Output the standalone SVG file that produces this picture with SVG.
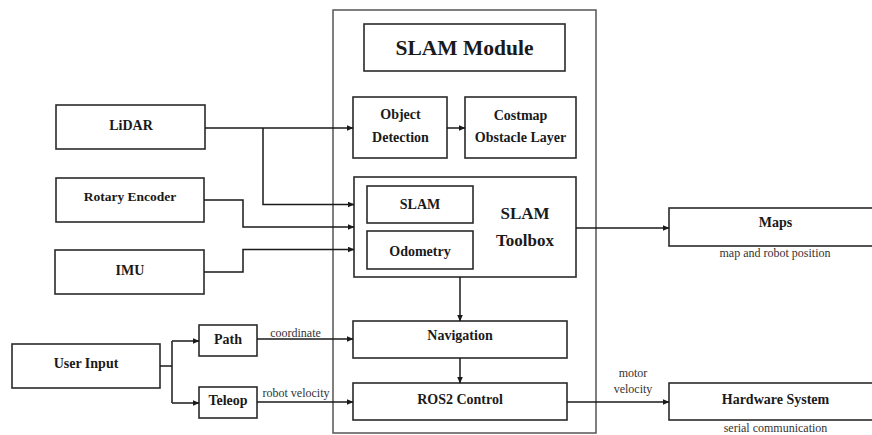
<svg xmlns="http://www.w3.org/2000/svg" width="872" height="435" viewBox="0 0 872 435">
<defs>
<style>
.box{fill:#fff;stroke:#2a2a2a;stroke-width:1.6}
.cont{fill:none;stroke:#555;stroke-width:1.5}
.t{font-family:"Liberation Serif","Times New Roman",serif;font-weight:bold;font-size:14px;fill:#1a1a1a;text-anchor:middle}
.s{font-family:"Liberation Serif","Times New Roman",serif;font-size:12px;fill:#333;text-anchor:middle}
.c{fill:none;stroke:#1a1a1a;stroke-width:1.5}
</style>
<marker id="ah" markerWidth="7" markerHeight="6" refX="6.5" refY="3" orient="auto" markerUnits="userSpaceOnUse">
<path d="M0,0 L7,3 L0,6 z" fill="#1a1a1a"/>
</marker>
</defs>
<rect width="872" height="435" fill="#fff"/>
<g id="slam-module-container">
<rect class="cont" x="333" y="10" width="263" height="423"/>
</g>
<g id="slam-module-title">
<rect class="box" x="364" y="24" width="201" height="47"/>
<text class="t" x="464.5" y="55" style="font-size:21.5px">SLAM Module</text>
</g>
<g id="lidar">
<rect class="box" x="56" y="105" width="149" height="44"/>
<text class="t" x="131" y="130">LiDAR</text>
</g>
<g id="rotary-encoder">
<rect class="box" x="56" y="178" width="148" height="44"/>
<text class="t" x="130" y="201" style="font-size:13.5px">Rotary Encoder</text>
</g>
<g id="imu">
<rect class="box" x="55" y="250" width="149" height="44"/>
<text class="t" x="130" y="275">IMU</text>
</g>
<g id="user-input">
<rect class="box" x="12" y="344" width="148" height="44"/>
<text class="t" x="86" y="368">User Input</text>
</g>
<g id="path">
<rect class="box" x="199" y="325" width="58" height="31"/>
<text class="t" x="228" y="344">Path</text>
</g>
<g id="teleop">
<rect class="box" x="199" y="387" width="58" height="31"/>
<text class="t" x="228" y="405">Teleop</text>
</g>
<g id="object-detection">
<rect class="box" x="353" y="97" width="94" height="61"/>
<text class="t" x="400.5" y="119">Object</text>
<text class="t" x="400.5" y="141.5">Detection</text>
</g>
<g id="costmap">
<rect class="box" x="465" y="97" width="111" height="61"/>
<text class="t" x="520.5" y="119.5">Costmap</text>
<text class="t" x="520.5" y="141.5">Obstacle Layer</text>
</g>
<g id="slam-toolbox">
<rect class="box" x="354" y="177" width="222" height="100"/>
<text class="t" x="525" y="219" style="font-size:17px">SLAM</text>
<text class="t" x="525" y="246" style="font-size:17px">Toolbox</text>
</g>
<g id="slam">
<rect class="box" x="367" y="186" width="106" height="37"/>
<text class="t" x="420" y="209">SLAM</text>
</g>
<g id="odometry">
<rect class="box" x="367" y="231" width="106" height="38"/>
<text class="t" x="420" y="255.5">Odometry</text>
</g>
<g id="navigation">
<rect class="box" x="353" y="321" width="214" height="37"/>
<text class="t" x="460" y="340">Navigation</text>
</g>
<g id="ros2-control">
<rect class="box" x="353" y="383" width="214" height="37"/>
<text class="t" x="460" y="404">ROS2 Control</text>
</g>
<g id="maps">
<rect class="box" x="669" y="208" width="212" height="38"/>
<text class="t" x="775.5" y="227">Maps</text>
<text class="s" x="775" y="256.5">map and robot position</text>
</g>
<g id="hardware-system">
<rect class="box" x="669" y="383" width="212" height="37"/>
<text class="t" x="775.5" y="404">Hardware System</text>
<text class="s" x="775.5" y="432">serial communication</text>
</g>
<g id="connectors">
<path class="c" d="M205,128 H353" marker-end="url(#ah)"/>
<path class="c" d="M263,128 V204.5 H354" marker-end="url(#ah)"/>
<path class="c" d="M204,200 H243 V227 H354" marker-end="url(#ah)"/>
<path class="c" d="M204,272 H243 V249.5 H354" marker-end="url(#ah)"/>
<path class="c" d="M447,128 H465" marker-end="url(#ah)"/>
<path class="c" d="M576,228 H669" marker-end="url(#ah)"/>
<path class="c" d="M460,277 V321" marker-end="url(#ah)"/>
<path class="c" d="M460,358 V383" marker-end="url(#ah)"/>
<path class="c" d="M160,366 H172"/>
<path class="c" d="M172,341 V403"/>
<path class="c" d="M172,341 H199" marker-end="url(#ah)"/>
<path class="c" d="M172,403 H199" marker-end="url(#ah)"/>
<path class="c" d="M257,339 H353" marker-end="url(#ah)"/>
<path class="c" d="M257,402 H353" marker-end="url(#ah)"/>
<path class="c" d="M567,402 H669" marker-end="url(#ah)"/>
<text class="s" x="295.5" y="337">coordinate</text>
<text class="s" x="296" y="397">robot velocity</text>
<text class="s" x="633" y="377">motor</text>
<text class="s" x="633" y="393">velocity</text>
</g>
</svg>
